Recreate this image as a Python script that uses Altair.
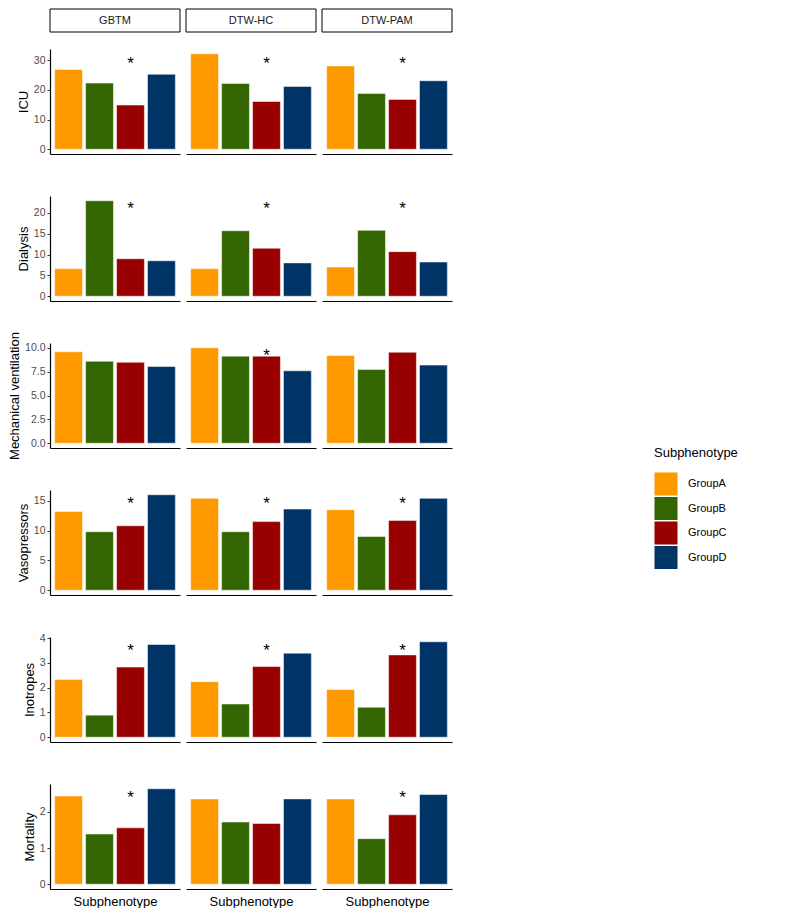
import altair as alt
import pandas as pd

outcomes = ["ICU", "Dialysis", "Mechanical ventilation", "Vasopressors", "Inotropes", "Mortality"]
methods = ["GBTM", "DTW-HC", "DTW-PAM"]
groups = ["GroupA", "GroupB", "GroupC", "GroupD"]
colors = ["#FF9900", "#336600", "#990000", "#003366"]

# values per outcome, per method, in group order A..D
icu = {"GBTM": [26.9, 22.3, 14.9, 25.3], "DTW-HC": [32.2, 22.2, 16.1, 21.2], "DTW-PAM": [28.1, 18.8, 16.8, 23.1]}
dialysis = {"GBTM": [6.6, 22.9, 9.0, 8.5], "DTW-HC": [6.6, 15.7, 11.5, 8.0], "DTW-PAM": [7.0, 15.8, 10.7, 8.2]}
mech_vent = {"GBTM": [9.6, 8.6, 8.5, 8.05], "DTW-HC": [10.02, 9.14, 9.14, 7.6], "DTW-PAM": [9.2, 7.75, 9.55, 8.2]}
vaso = {"GBTM": [13.2, 9.8, 10.8, 16.0], "DTW-HC": [15.4, 9.8, 11.5, 13.6], "DTW-PAM": [13.5, 9.0, 11.7, 15.4]}
inotropes = {"GBTM": [2.33, 0.89, 2.83, 3.74], "DTW-HC": [2.24, 1.34, 2.85, 3.39], "DTW-PAM": [1.92, 1.21, 3.32, 3.85]}
mortality = {"GBTM": [2.44, 1.39, 1.56, 2.64], "DTW-HC": [2.36, 1.72, 1.68, 2.36], "DTW-PAM": [2.36, 1.26, 1.92, 2.48]}
values = [icu, dialysis, mech_vent, vaso, inotropes, mortality]

# significance markers (over GroupC) and their height per outcome
star_methods = [methods, methods, ["DTW-HC"], methods, methods, ["GBTM", "DTW-PAM"]]
star_y = [30.0, 21.8, 9.57, 15.2, 3.65, 2.5]

y_ticks = [[0, 10, 20, 30], [0, 5, 10, 15, 20], [0, 2.5, 5, 7.5, 10], [0, 5, 10, 15], [0, 1, 2, 3, 4], [0, 1, 2]]
y_formats = ["d", "d", ".1f", "d", "d", "d"]

PANEL_W = 130
PANEL_H = 105
FONT = "Liberation Sans"

legend = alt.Legend(
    title="Subphenotype", orient="none", legendX=604, legendY=398,
    symbolType="square", symbolSize=530, symbolStrokeWidth=0,
    labelFontSize=11, titleFontSize=13, titleFontWeight="normal",
    titleColor="black", labelColor="black", rowPadding=0.5, titlePadding=12,
    labelOffset=10, labelFont=FONT, titleFont=FONT,
)

cells = []
for i, outcome in enumerate(outcomes):
    M = max(max(values[i][m]) for m in methods)
    yscale = alt.Scale(domain=[-0.05 * M, 1.05 * M], nice=False, zero=False)
    last = i == len(outcomes) - 1
    for j, m in enumerate(methods):
        df = pd.DataFrame({
            "method": [m] * len(groups),
            "group": groups,
            "value": values[i][m],
            "star": [bool(g == "GroupC" and m in star_methods[i]) for g in groups],
        })
        if j == 0:
            yaxis = alt.Axis(values=y_ticks[i], format=y_formats[i], title=outcome,
                             grid=False, domainColor="black", domainWidth=1.2,
                             tickColor="#333333", tickSize=3, labelColor="#4D4D4D",
                             labelFontSize=10.5, titleFontSize=13, titleFontWeight="normal",
                             titleColor="black", labelPadding=2, titlePadding=3,
                             labelOverlap=False)
        else:
            yaxis = None
        xaxis = alt.Axis(labels=False, ticks=False, title="Subphenotype" if last else None,
                         domainColor="black", domainWidth=1.2, titleFontSize=13,
                         titleFontWeight="normal", titleColor="black", titlePadding=6)
        xenc = alt.X("group:N", sort=groups,
                     scale=alt.Scale(paddingInner=0.1, paddingOuter=0.15), axis=xaxis)
        bars = alt.Chart().mark_bar(stroke="white", strokeWidth=0.5).encode(
            x=xenc,
            y=alt.Y("value:Q", scale=yscale, axis=yaxis),
            y2=alt.datum(0),
            color=alt.Color("group:N", scale=alt.Scale(domain=groups, range=colors), legend=legend),
        )
        stars = alt.Chart().transform_filter("datum.star").transform_calculate(
            sy=str(star_y[i])
        ).mark_text(text="*", fontSize=17, color="black", dy=4, font=FONT).encode(
            x=alt.X("group:N", sort=groups), y=alt.Y("sy:Q", scale=yscale, axis=yaxis)
        )
        layers = [bars, stars]
        if i == 0:
            strip_rect = alt.Chart().transform_filter("datum.group == 'GroupA'").mark_rect(
                fill="white", stroke="black", strokeWidth=1
            ).encode(x=alt.value(0), x2=alt.value(PANEL_W), y=alt.value(-40), y2=alt.value(-17))
            strip_text = alt.Chart().transform_filter("datum.group == 'GroupA'").mark_text(
                fontSize=11, color="#1A1A1A", baseline="middle", font=FONT
            ).encode(text="method:N", x=alt.value(PANEL_W / 2), y=alt.value(-28.5))
            layers += [strip_rect, strip_text]
        cell = alt.layer(*layers, data=df).properties(width=PANEL_W, height=PANEL_H)
        cells.append(cell)

chart = alt.concat(
    *cells, columns=3, spacing={"row": 42, "column": 6}, bounds="flush"
).resolve_scale(x="independent", y="independent").properties(
    padding={"left": 0, "top": 0, "right": 5, "bottom": 0}
).configure(font=FONT).configure_view(stroke=None)

chart.save("out.html", embed_options={"renderer": "svg", "actions": False})
